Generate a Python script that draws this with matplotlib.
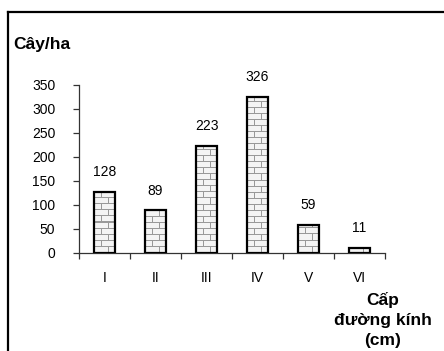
import numpy as np
import matplotlib
matplotlib.use("Agg")
import matplotlib.pyplot as plt
from matplotlib.lines import Line2D

plt.rcParams['font.family'] = ['Liberation Sans', 'DejaVu Sans']

categories = ["I", "II", "III", "IV", "V", "VI"]
trees_per_ha = [128, 89, 223, 326, 59, 11]
y_ticks = [0, 50, 100, 150, 200, 250, 300, 350]

W, H = 444, 351
fig = plt.figure(figsize=(W / 100, H / 100), dpi=100)
ax = fig.add_axes([79 / W, 1 - 253 / H, 306 / W, 168 / H])

x = np.arange(len(categories))
bar_w = 0.40
ax.set_xlim(-0.5, len(categories) - 0.5)
ax.set_ylim(0, 350)


def brick_texture(w_px, h_px, row=6, brick=13):
    bg = np.array([0.96, 0.96, 0.96])
    ln = np.array([0.60, 0.60, 0.60])
    img = np.tile(bg, (h_px, w_px, 1))
    for yy in range(h_px):
        r = (h_px - 1 - yy)
        band = r // row
        if r % row == 0:
            img[yy, :] = ln
            continue
        off = 0 if band % 2 == 0 else brick // 2
        for xx in range(w_px):
            if (xx + off) % brick == 0:
                img[yy, xx] = ln
    return img


# brick-patterned fill, then outlined bars on top
for xi, v in zip(x, trees_per_ha):
    x0, x1 = xi - bar_w / 2, xi + bar_w / 2
    (px0, py0), (px1, py1) = ax.transData.transform([(x0, 0), (x1, v)])
    wpx = max(int(round(px1 - px0)), 1)
    hpx = max(int(round(py1 - py0)), 1)
    ax.imshow(brick_texture(wpx, hpx), extent=(x0, x1, 0, v),
              aspect='auto', interpolation='nearest', zorder=1)

bars = ax.bar(x, trees_per_ha, width=bar_w, facecolor='none',
              edgecolor='black', linewidth=1.6, zorder=3)
ax.set_xlim(-0.5, len(categories) - 0.5)
ax.set_ylim(0, 350)

for xi, v in zip(x, trees_per_ha):
    ax.annotate(str(v), (xi, v), xytext=(0, 9), textcoords='offset points',
                ha='center', va='bottom', fontsize=10)

for s in ['top', 'right']:
    ax.spines[s].set_visible(False)
for s in ['left', 'bottom']:
    ax.spines[s].set_color('#333333')
    ax.spines[s].set_linewidth(0.9)

ax.set_yticks(y_ticks)
ax.set_yticklabels([str(t) for t in y_ticks], fontsize=10)
ax.tick_params(axis='y', direction='out', length=4, width=0.9,
               color='#333333', pad=13)

ax.set_xticks(x)
ax.set_xticklabels(categories, fontsize=10)
ax.set_xticks(np.arange(-0.5, len(categories)), minor=True)
ax.tick_params(axis='x', which='major', length=0, pad=13)
ax.tick_params(axis='x', which='minor', direction='out', length=4,
               width=0.9, color='#333333')

fig.text(13 / W, 1 - 45 / H, "Cây/ha", fontsize=12.5, fontweight='bold',
         ha='left', va='center')
fig.text(383 / W, 1 - 320 / H, "Cấp\nđường kính\n(cm)", fontsize=12.5,
         fontweight='bold', ha='center', va='center', linespacing=1.45)

# outer frame lines
fig.add_artist(Line2D([8 / W, 1], [1 - 12 / H, 1 - 12 / H],
                      transform=fig.transFigure, color='black', lw=1.6))
fig.add_artist(Line2D([8 / W, 8 / W], [0, 1 - 12 / H],
                      transform=fig.transFigure, color='black', lw=1.6))

fig.savefig("out.png", dpi=100)
